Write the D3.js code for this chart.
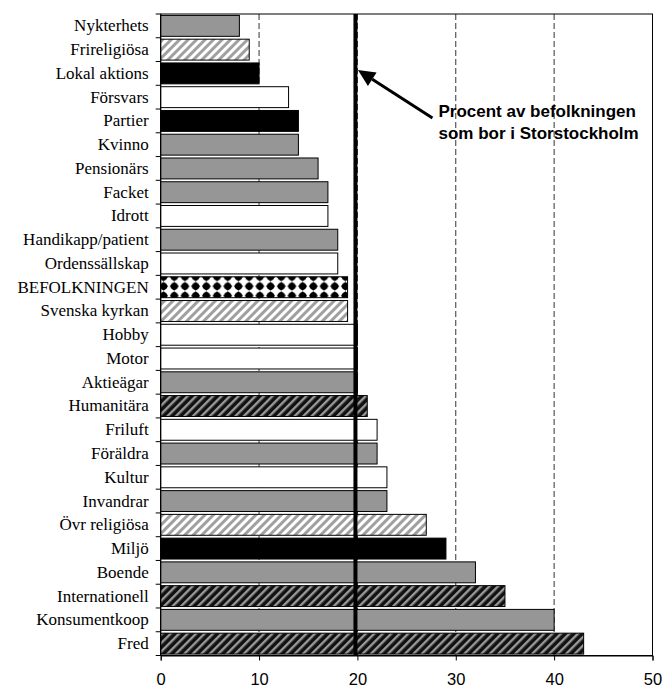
<!DOCTYPE html>
<html>
<head>
<meta charset="utf-8">
<script src="https://cdn.jsdelivr.net/npm/d3@7"></script>
<style>
  body { margin: 0; background: #fff; }
</style>
</head>
<body>
<script>
// data: share (%) of members living in Storstockholm, per kind of association
const categories = ["Nykterhets", "Frireligiösa", "Lokal aktions", "Försvars", "Partier", "Kvinno",
  "Pensionärs", "Facket", "Idrott", "Handikapp/patient", "Ordenssällskap", "BEFOLKNINGEN",
  "Svenska kyrkan", "Hobby", "Motor", "Aktieägar", "Humanitära ", "Friluft", "Föräldra", "Kultur",
  "Invandrar", "Övr religiösa ", "Miljö", "Boende", "Internationell", "Konsumentkoop", "Fred"];
const values = [8, 9, 10, 13, 14, 14, 16, 17, 17, 18, 18, 19, 19, 20, 20, 20, 21, 22, 22, 23, 23, 27, 29, 32, 35, 40, 43];
// fill group of each bar
const groups = ["grå", "ljusrandig", "svart", "vit", "svart", "grå", "grå", "grå", "vit", "grå", "vit", "mönster",
  "ljusrandig", "vit", "vit", "grå", "mörkrandig", "vit", "grå", "vit", "grå", "ljusrandig", "svart", "grå",
  "mörkrandig", "grå", "mörkrandig"];
const xTicks = [0, 10, 20, 30, 40, 50];
const refValue = 19.8; // befolkningen i Storstockholm
const noteLines = ["Procent av befolkningen", "som bor i Storstockholm"];

// set the dimensions and margins of the graph
const margin = {top: 14, right: 10.5, bottom: 33.5, left: 160.7},
  width = 663 - margin.left - margin.right,
  height = 689 - margin.top - margin.bottom;

const svgRoot = d3.select("body")
  .append("svg")
    .attr("width", 663)
    .attr("height", 689);

const defs = svgRoot.append("defs");

const svg = svgRoot.append("g")
  .attr("transform", `translate(${margin.left}, ${margin.top})`);

const x = d3.scaleLinear()
  .domain([0, 50])
  .range([0, width]);

const y = d3.scaleBand()
  .domain(categories)
  .range([0, height])
  .paddingInner(0.12)
  .paddingOuter(0.06);

// patterns
const light = defs.append("pattern")
  .attr("id", "ljusrandig")
  .attr("patternUnits", "userSpaceOnUse")
  .attr("width", 6).attr("height", 6)
  .attr("patternTransform", "rotate(45)");
light.append("rect").attr("width", 6).attr("height", 6).attr("fill", "#fff");
light.append("rect").attr("width", 3).attr("height", 6).attr("fill", "#a0a0a0");

const dark = defs.append("pattern")
  .attr("id", "mörkrandig")
  .attr("patternUnits", "userSpaceOnUse")
  .attr("width", 6).attr("height", 6)
  .attr("patternTransform", "rotate(45)");
dark.append("rect").attr("width", 6).attr("height", 6).attr("fill", "#111");
dark.append("rect").attr("width", 2.4).attr("height", 6).attr("fill", "#999");

const dotRow = categories[groups.indexOf("mönster")];
const dots = defs.append("pattern")
  .attr("id", "mönster")
  .attr("patternUnits", "userSpaceOnUse")
  .attr("x", margin.left - 2.7)
  .attr("y", margin.top + y(dotRow) + 0.2)
  .attr("width", 10.7).attr("height", 9.4);
dots.append("rect").attr("width", 10.7).attr("height", 9.4).attr("fill", "#fff");
dots.append("path")
  .attr("d", "M5.35,0.3 L9.9,4.7 L5.35,9.1 L0.8,4.7 Z")
  .attr("fill", "#000");
dots.append("circle").attr("cx", 5.35).attr("cy", 4.7).attr("r", 3.6).attr("fill", "#000");

const fills = {"grå": "#969696", "vit": "#fff", "svart": "#000",
  "ljusrandig": "url(#ljusrandig)", "mörkrandig": "url(#mörkrandig)", "mönster": "url(#mönster)"};

// dashed gridlines
svg.append("g")
  .selectAll("line")
  .data(xTicks.filter(d => d > 0 && d < 50))
  .join("line")
    .attr("x1", d => x(d)).attr("x2", d => x(d))
    .attr("y1", 0).attr("y2", height)
    .attr("stroke", "#333")
    .attr("stroke-width", 1)
    .attr("stroke-dasharray", "6,3");

// plot border
svg.append("rect")
  .attr("x", 0).attr("y", 0)
  .attr("width", width).attr("height", height)
  .attr("fill", "none")
  .attr("stroke", "#000")
  .attr("stroke-width", 1);

// bars
const rows = categories.map((c, i) => ({cat: c, val: values[i], grp: groups[i]}));
svg.append("g")
  .selectAll("rect")
  .data(rows)
  .join("rect")
    .attr("x", x(0))
    .attr("y", d => y(d.cat))
    .attr("width", d => x(d.val) - x(0))
    .attr("height", y.bandwidth())
    .attr("fill", d => fills[d.grp])
    .attr("stroke", "#000")
    .attr("stroke-width", 1);

// y axis: labels and ticks between categories
const yAxis = svg.append("g")
  .call(d3.axisLeft(y).tickSize(0).tickPadding(12));
yAxis.select(".domain").remove();
yAxis.selectAll("text")
  .style("font-family", "'Times New Roman', 'Liberation Serif', serif")
  .style("font-size", "17px")
  .attr("fill", "#000");

const step = y.step();
svg.append("g")
  .selectAll("line")
  .data(d3.range(categories.length + 1))
  .join("line")
    .attr("x1", -5).attr("x2", 0)
    .attr("y1", i => y(categories[0]) - step * y.paddingInner() / 2 + i * step)
    .attr("y2", i => y(categories[0]) - step * y.paddingInner() / 2 + i * step)
    .attr("stroke", "#000");

svg.append("line")
  .attr("x1", 0).attr("x2", 0)
  .attr("y1", 0).attr("y2", height)
  .attr("stroke", "#000");

// x axis
const xAxis = svg.append("g")
  .attr("transform", `translate(0, ${height})`)
  .call(d3.axisBottom(x).tickValues(xTicks).tickSize(5).tickPadding(13).tickFormat(d3.format("d")));
xAxis.select(".domain").attr("stroke", "#000");
xAxis.selectAll("text")
  .style("font-family", "Arial, 'Liberation Sans', sans-serif")
  .style("font-size", "16.5px")
  .attr("fill", "#000");

// reference line: Storstockholm share of population
svg.append("line")
  .attr("x1", x(refValue)).attr("x2", x(refValue))
  .attr("y1", 0).attr("y2", height)
  .attr("stroke", "#000")
  .attr("stroke-width", 4);

// annotation arrow
const tip = [x(refValue) + 2.5, 56];
const tail = [x(refValue) + 77, 104];
const ang = Math.atan2(tail[1] - tip[1], tail[0] - tip[0]);
const headLen = 17, headW = 8;
const bx = tip[0] + headLen * Math.cos(ang), by = tip[1] + headLen * Math.sin(ang);
svg.append("line")
  .attr("x1", bx).attr("y1", by)
  .attr("x2", tail[0]).attr("y2", tail[1])
  .attr("stroke", "#000")
  .attr("stroke-width", 3);
svg.append("path")
  .attr("d", `M${tip[0]},${tip[1]} L${bx - headW * Math.sin(ang)},${by + headW * Math.cos(ang)} L${bx + headW * Math.sin(ang)},${by - headW * Math.cos(ang)} Z`)
  .attr("fill", "#000");

svg.append("g")
  .selectAll("text")
  .data(noteLines)
  .join("text")
    .attr("x", x(refValue) + 83)
    .attr("y", (d, i) => 103 + i * 22)
    .style("font-family", "Arial, 'Liberation Sans', sans-serif")
    .style("font-size", "17px")
    .style("font-weight", "bold")
    .attr("fill", "#000")
    .text(d => d);
</script>
</body>
</html>
